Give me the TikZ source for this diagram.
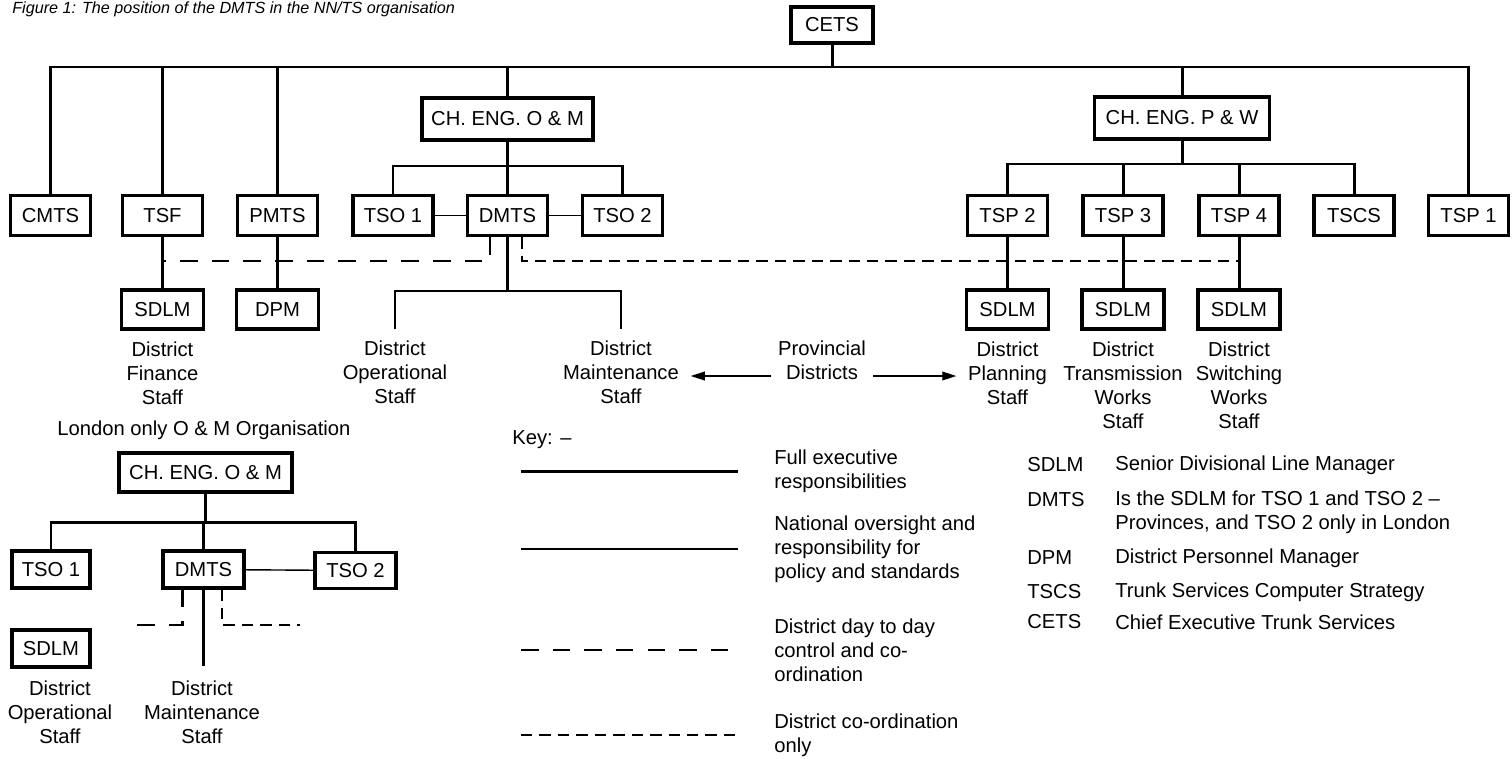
\documentclass[tikz,border=0pt]{standalone}
\usepackage{fontspec}
\setmainfont{Liberation Sans}
\usetikzlibrary{positioning,arrows.meta}

\begin{document}
\begin{tikzpicture}[x=0.02cm,y=-0.02cm,
    font=\fontsize{11.5}{13.6}\selectfont,
    box/.style={draw,line width=1.8pt,minimum width=1.6cm,minimum height=0.8cm,inner sep=0pt},
    subbox/.style={box,minimum width=1.64cm,minimum height=0.78cm},
    exec/.style={line width=1.7pt},
    natl/.style={line width=0.8pt},
    ddash/.style={line width=1.6pt,dash pattern=on 10pt off 8pt},
    cdash/.style={line width=0.8pt,dash pattern=on 6.5pt off 4pt},
    lbl/.style={align=center,inner xsep=2pt,inner ysep=6.5pt},
    keytxt/.style={align=left,anchor=west,inner sep=0pt},
    ptr/.style={line width=0.6pt,-{Triangle[length=8pt,width=5pt]}}]
    \useasboundingbox (0,0) rectangle (1512,758);

    % title %
    \node[anchor=west,inner sep=0pt,font=\fontsize{9.2}{11}\selectfont\itshape] (title) at (12,9) {Figure 1: The position of the DMTS in the NN/TS organisation};

    % top of the tree %
    \node[box,minimum width=1.64cm,minimum height=0.72cm] (cets) at (832,25) {CETS};
    \node[box,minimum width=3.42cm,minimum height=0.84cm] (omch) at (507.5,119) {CH. ENG. O \& M};
    \node[box,minimum width=3.5cm,minimum height=0.84cm] (pwch) at (1182,118) {CH. ENG. P \& W};
    \coordinate (topbus) at (0,67);
    \coordinate (ombus) at (0,166);
    \coordinate (pwbus) at (0,164);

    % second row %
    \node[box] (cmts) at (50.5,215.5) {CMTS};
    \node[box] (tsf) at (162.5,215.5) {TSF};
    \node[box] (pmts) at (277.5,215.5) {PMTS};
    \node[box] (tso1) at (393,215.5) {TSO 1};
    \node[box] (dmts) at (507.5,215.5) {DMTS};
    \node[box] (tso2) at (622.5,215.5) {TSO 2};
    \node[box] (tsp2) at (1007.5,215.5) {TSP 2};
    \node[box] (tsp3) at (1123,215.5) {TSP 3};
    \node[box] (tsp4) at (1239,215.5) {TSP 4};
    \node[box] (tscs) at (1354,215.5) {TSCS};
    \node[box] (tsp1) at (1468.5,215.5) {TSP 1};

    \draw[exec] (cets.south) -- (cets |- topbus);
    \draw[exec] (cmts.north) -- (cmts |- topbus) -- (tsp1 |- topbus) -- (tsp1.north);
    \draw[exec] (tsf.north) -- (tsf |- topbus);
    \draw[exec] (pmts.north) -- (pmts |- topbus);
    \draw[exec] (omch.north) -- (omch |- topbus);
    \draw[exec] (pwch.north) -- (pwch |- topbus);
    \draw[exec] (omch.south) -- (dmts.north);
    \draw[exec] (tso1.north) -- (tso1 |- ombus) -- (tso2 |- ombus) -- (tso2.north);
    \draw[exec] (pwch.south) -- (pwch |- pwbus);
    \draw[exec] (tsp2.north) -- (tsp2 |- pwbus) -- (tscs |- pwbus) -- (tscs.north);
    \draw[exec] (tsp3.north) -- (tsp3 |- pwbus);
    \draw[exec] (tsp4.north) -- (tsp4 |- pwbus);
    \draw[natl] (tso1) -- (dmts);
    \draw[natl] (dmts) -- (tso2);

    % district level %
    \node[subbox] (sdlmf) at (162.5,309.5) {SDLM};
    \node[subbox] (dpm) at (277.5,309.5) {DPM};
    \node[subbox] (sdlmp) at (1007.5,309.5) {SDLM};
    \node[subbox] (sdlmt) at (1123,309.5) {SDLM};
    \node[subbox] (sdlms) at (1239,309.5) {SDLM};
    \draw[exec] (tsf.south) -- (sdlmf.north);
    \draw[exec] (pmts.south) -- (dpm.north);
    \draw[exec] (tsp2.south) -- (sdlmp.north);
    \draw[exec] (tsp3.south) -- (sdlmt.north);
    \draw[exec] (tsp4.south) -- (sdlms.north);

    \coordinate (dashbus) at (0,261);
    \draw[ddash] ([shift={(-17.5,0)}]dmts.south) |- (tsf |- dashbus);
    \draw[cdash] ([shift={(14.5,0)}]dmts.south) |- (tsp4 |- dashbus);

    \node[lbl,below=0pt of sdlmf] (lblfin) {District\\Finance\\Staff};
    \node[lbl,anchor=north] (lblop) at (395,329) {District\\Operational\\Staff};
    \node[lbl,anchor=north] (lblmt) at (621,329) {District\\Maintenance\\Staff};
    \node[lbl,below=0pt of sdlmp] (lblplan) {District\\Planning\\Staff};
    \node[lbl,below=0pt of sdlmt] (lbltr) {District\\Transmission\\Works\\Staff};
    \node[lbl,below=0pt of sdlms] (lblsw) {District\\Switching\\Works\\Staff};
    \coordinate (opbus) at (0,291);
    \draw[exec] (dmts.south) -- (dmts |- opbus);
    \draw[exec] (lblop.north) |- (lblmt.north |- opbus) -- (lblmt.north);

    \node[align=center,inner xsep=4pt] (prov) at (822,360) {Provincial\\Districts};
    \coordinate (provy) at (0,376);
    \draw[ptr] (prov.west |- provy) -- ([shift={(8,0)}]lblmt.east |- provy);
    \draw[ptr] (prov.east |- provy) -- ([shift={(-8,0)}]lblplan.west |- provy);

    % London only %
    \node[anchor=west,inner sep=0pt] (london) at (57,430) {London only O \& M Organisation};
    \node[box,minimum width=3.46cm,minimum height=0.78cm] (lomch) at (205.5,472.5) {CH. ENG. O \& M};
    \node[box,minimum width=1.56cm,minimum height=0.74cm] (ltso1) at (51,569.5) {TSO 1};
    \node[box,minimum width=1.62cm,minimum height=0.74cm] (ldmts) at (203.5,569.5) {DMTS};
    \node[box,minimum width=1.62cm,minimum height=0.72cm] (ltso2) at (355.5,570.5) {TSO 2};
    \node[box,minimum width=1.56cm,minimum height=0.74cm] (lsdlm) at (51,648.5) {SDLM};
    \coordinate (lbus) at (0,522);
    \draw[exec] (lomch.south) -- (lomch.south |- lbus);
    \draw[exec] (ltso1.north) -- (ltso1 |- lbus) -- (ltso2 |- lbus) -- (ltso2.north);
    \draw[exec] (ldmts.north) -- (ldmts.north |- lbus);
    \draw[natl] (ldmts) -- (ltso2);
    \coordinate (lmtend) at (0,666);
    \draw[exec] (ldmts.south) -- (ldmts.south |- lmtend);
    \coordinate (ldl) at (128,625);
    \coordinate (ldr) at (300,625);
    \draw[ddash] ([shift={(-21,0)}]ldmts.south) |- (ldl);
    \draw[cdash] ([shift={(18.5,0)}]ldmts.south) |- (ldr);
    \node[lbl,anchor=north] (llblop) at (60,669) {District\\Operational\\Staff};
    \node[lbl,anchor=north] (llblmt) at (202,669) {District\\Maintenance\\Staff};

    % key %
    \node[anchor=west,inner sep=0pt] (keyhd) at (512,440) {Key: --};
    \coordinate (keyL) at (521,0);
    \coordinate (keyR) at (738,0);
    \node[keytxt] (key1) at (774,471) {Full executive\\responsibilities};
    \node[keytxt] (key2) at (774,549) {National oversight and\\responsibility for\\policy and standards};
    \node[keytxt] (key3) at (774,650) {District day to day\\control and co-\\ordination};
    \node[keytxt] (key4) at (774,735) {District co-ordination\\only};
    \draw[exec] (key1.west -| keyL) -- (key1.west -| keyR);
    \draw[natl] (key2.west -| keyL) -- (key2.west -| keyR);
    \draw[ddash] (key3.west -| keyL) -- (key3.west -| keyR);
    \draw[cdash] (key4.west -| keyL) -- (key4.west -| keyR);

    % abbreviations %
    \node[keytxt] (ab1) at (1027,465) {SDLM};
    \node[keytxt] (ab2) at (1027,500) {DMTS};
    \node[keytxt] (ab3) at (1027,558) {DPM};
    \node[keytxt] (ab4) at (1027,592) {TSCS};
    \node[keytxt] (ab5) at (1027,622) {CETS};
    \node[keytxt] (de1) at (1115,465) {Senior Divisional Line Manager};
    \node[keytxt] (de2) at (1115,512) {Is the SDLM for TSO 1 and TSO 2 --\\Provinces, and TSO 2 only in London};
    \node[keytxt] (de3) at (1115,558) {District Personnel Manager};
    \node[keytxt] (de4) at (1115,592) {Trunk Services Computer Strategy};
    \node[keytxt] (de5) at (1115,622) {Chief Executive Trunk Services};
\end{tikzpicture}
\end{document}
